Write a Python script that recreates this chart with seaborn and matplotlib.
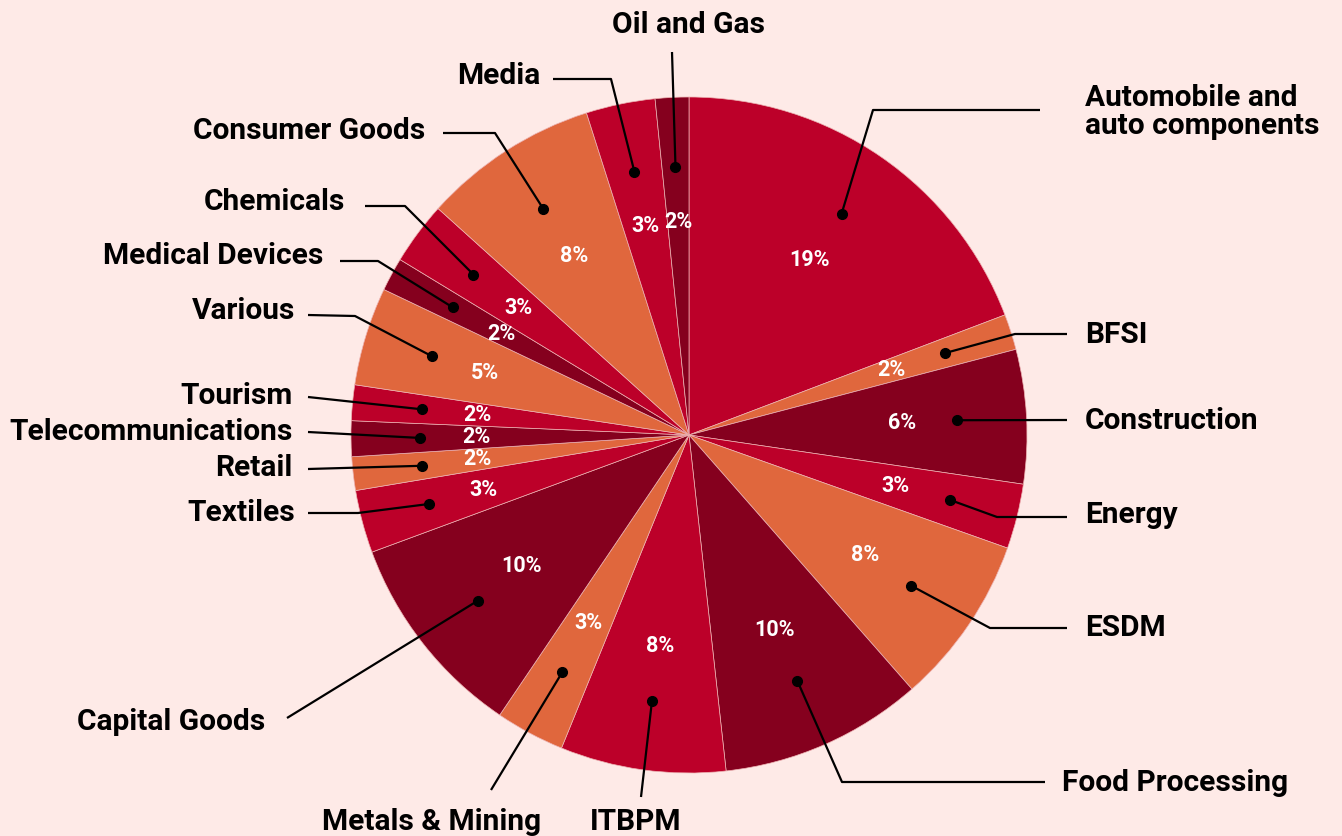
import numpy as np
import matplotlib
matplotlib.use("Agg")
import matplotlib.pyplot as plt
import seaborn as sns

# ---------------- data ----------------
sectors = ["Automobile and\nauto components", "BFSI", "Construction", "Energy", "ESDM",
           "Food Processing", "ITBPM", "Metals & Mining", "Capital Goods", "Textiles",
           "Retail", "Telecommunications", "Tourism", "Various", "Medical Devices",
           "Chemicals", "Consumer Goods", "Media", "Oil and Gas"]
shares = [19.2, 1.7, 6.4, 3.1, 8.1, 9.7, 7.9, 3.3, 9.9, 3.0,
          1.6, 1.7, 1.7, 4.7, 1.6, 3.0, 8.4, 3.3, 1.6]
color_idx = [0, 1, 2, 0, 1, 2, 0, 1, 2, 0, 1, 2, 0, 1, 2, 0, 1, 0, 2]

# ---------------- style ----------------
BG = "#FEEAE7"
palette = sns.color_palette(["#BC0029", "#E0673D", "#85001E"])
sns.set_theme(style="white")
plt.rcParams["font.family"] = ["Roboto", "DejaVu Sans"]

W, H = 1342, 836
def P(x, y):  # pixel layout (y down) -> axes data (y up)
    return (x, H - y)

# label layout: polyline points after the dot (pixel coords), text position, alignment
layout = [
    ([(873, 110), (1040, 110)], (1085, 112), "left"),
    ([(1015, 334), (1067, 334)], (1085, 335), "left"),
    ([(1067, 420)], (1085, 421), "left"),
    ([(997, 517), (1067, 517)], (1085, 515), "left"),
    ([(990, 628), (1067, 628)], (1085, 628), "left"),
    ([(842, 782), (1045, 782)], (1062, 783), "left"),
    ([(641, 797)], (636, 822), "center"),
    ([(491, 790)], (432, 822), "center"),
    ([(287, 718)], (265, 722), "right"),
    ([(358, 513), (308, 513)], (295, 513), "right"),
    ([(308, 469)], (292, 468), "right"),
    ([(308, 432)], (293, 432), "right"),
    ([(308, 397)], (293, 396), "right"),
    ([(355, 316), (308, 315)], (295, 311), "right"),
    ([(378, 261), (340, 261)], (323, 256), "right"),
    ([(405, 206), (365, 206)], (345, 202), "right"),
    ([(495, 133), (443, 133)], (425, 131), "right"),
    ([(611, 79), (553, 79)], (540, 76), "right"),
    ([(672, 52)], (689, 25), "center"),
]

fig = plt.figure(figsize=(W / 100, H / 100), dpi=100, facecolor=BG)
ax = fig.add_axes([0, 0, 1, 1])
ax.set_facecolor(BG)

cx, cy = P(689, 435)
R = 338
colors = [palette[i] for i in color_idx]
wedges, texts, autotexts = ax.pie(
    shares, colors=colors, startangle=90, counterclock=False,
    center=(cx, cy), radius=R, autopct="%.0f%%", pctdistance=0.63,
    textprops=dict(color="white", fontsize=15.5, fontweight="bold"),
    wedgeprops=dict(edgecolor="#EDB3B3", linewidth=0.5),
)
ax.set_xlim(0, W)
ax.set_ylim(0, H)
ax.set_aspect("equal")
ax.axis("off")

for w, name, (pts, tpos, ha) in zip(wedges, sectors, layout):
    th = np.deg2rad((w.theta1 + w.theta2) / 2)
    dx, dy = cx + 0.795 * R * np.cos(th), cy + 0.795 * R * np.sin(th)
    xs = [dx] + [P(*p)[0] for p in pts]
    ys = [dy] + [P(*p)[1] for p in pts]
    ax.plot(xs, ys, color="black", lw=1.6, solid_capstyle="butt", zorder=5)
    ax.plot([dx], [dy], "o", color="black", ms=7, zorder=6)
    tx, ty = P(*tpos)
    ax.text(tx, ty, name, ha=ha, va="center", fontsize=21.5, fontweight="bold",
            color="black", linespacing=1.0, zorder=7)

fig.savefig("out.png", dpi=100, facecolor=BG)
